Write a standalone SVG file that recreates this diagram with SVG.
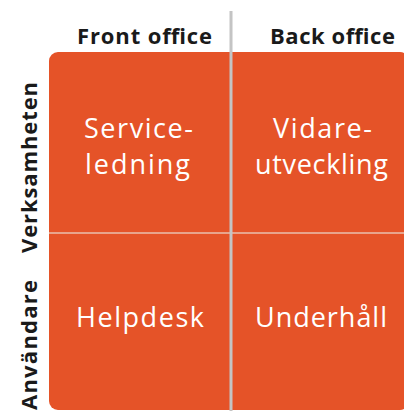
<svg xmlns="http://www.w3.org/2000/svg" width="404" height="411" viewBox="0 0 404 411">
<style>
.hdr{font-family:"Open Sans","Liberation Sans",sans-serif;font-weight:bold;font-size:22px;fill:#1a1a1a;text-anchor:middle}
.side{font-family:"Open Sans","Liberation Sans",sans-serif;font-weight:bold;font-size:22px;fill:#1a1a1a;text-anchor:middle}
.lbl{font-family:"Open Sans","Liberation Sans",sans-serif;font-size:27px;fill:#ffffff;text-anchor:middle}
</style>
<rect width="404" height="411" fill="#ffffff"/>
<g id="grid">
<rect x="49" y="52" width="360" height="358" rx="9" fill="#e55328"/>
</g>
<g id="connectors">
<line x1="49" y1="233" x2="404" y2="233" stroke="#e8a48c" stroke-width="2"/>
<line x1="231" y1="11" x2="231" y2="411" stroke="#c4c4c4" stroke-width="3"/>
</g>
<g id="headers">
<text class="hdr" x="144.5" y="44" textLength="135" lengthAdjust="spacing">Front office</text>
<text class="hdr" x="332.5" y="44" textLength="125" lengthAdjust="spacing">Back office</text>
<text class="side" transform="translate(37,167.5) rotate(-90)" textLength="171" lengthAdjust="spacing">Verksamheten</text>
<text class="side" transform="translate(37,345) rotate(-90)" textLength="130" lengthAdjust="spacing">Användare</text>
</g>
<g id="n1"><text class="lbl" x="138.5" y="138" textLength="109" lengthAdjust="spacing">Service-</text><text class="lbl" x="137.5" y="174" textLength="105" lengthAdjust="spacing">ledning</text></g>
<g id="n2"><text class="lbl" x="322.5" y="138" textLength="99" lengthAdjust="spacing">Vidare-</text><text class="lbl" x="321.5" y="174" textLength="133" lengthAdjust="spacing">utveckling</text></g>
<g id="n3"><text class="lbl" x="140" y="327" textLength="128" lengthAdjust="spacing">Helpdesk</text></g>
<g id="n4"><text class="lbl" x="321" y="327" textLength="132" lengthAdjust="spacing">Underhåll</text></g>
</svg>
